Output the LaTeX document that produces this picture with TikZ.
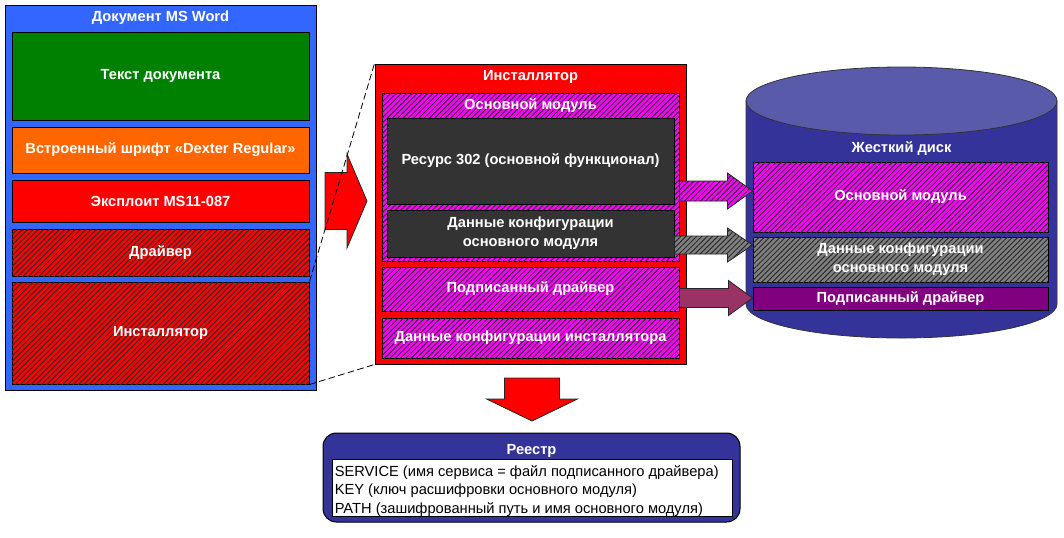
\documentclass[tikz,border=0pt]{standalone}
\usepackage{fontspec}
\setmainfont{Liberation Sans}
\usepackage{tikz}
\usetikzlibrary{calc}
\usetikzlibrary{positioning,patterns.meta}
\definecolor{wordblue}{RGB}{51,102,255}
\definecolor{docgreen}{RGB}{0,128,0}
\definecolor{fontorange}{RGB}{255,102,0}
\definecolor{hddblue}{RGB}{51,51,153}
\definecolor{hddtop}{RGB}{90,90,170}
\definecolor{darkcell}{RGB}{51,51,51}
\definecolor{plum}{RGB}{153,51,102}
\definecolor{drvpurple}{RGB}{128,0,128}
\definecolor{modmagenta}{RGB}{255,0,255}
\definecolor{hatchline}{RGB}{45,45,45}
\definecolor{hatchgray}{RGB}{128,128,128}
\newcommand{\lblfont}{\fontsize{11}{14}\selectfont\bfseries}
\newcommand{\cellnode}[7]{\node[cell, #1, minimum width={(#5-#3)*0.75pt}, minimum height={(#6-#4)*0.75pt}] (#2) at ({(#3+#5)/2},{(#4+#6)/2}) {#7};}
\newcommand{\blockarrow}[6]{\draw[#1] ($(#2)+(0,-#4)$) -- ($(#3)+(-#6,-#4)$) -- ($(#3)+(-#6,-#5)$) -- (#3) -- ($(#3)+(-#6,#5)$) -- ($(#3)+(-#6,#4)$) -- ($(#2)+(0,#4)$) -- cycle;}
\tikzset{
    cell/.style={draw=black, line width=0.75pt, inner sep=0pt, text=white, font=\lblfont, align=center},
    hatched/.style={postaction={pattern={Lines[angle=45,distance=2.8pt,line width=0.75pt]}, pattern color=hatchline}},
    ttl/.style={text=white, font=\lblfont, inner sep=0pt},
    barrow/.style={draw=black!85, line width=0.6pt}
}

\begin{document}
\begin{tikzpicture}[x=0.75pt, y=-0.75pt]
        \useasboundingbox (0,0) rectangle (1064,537);
        % MS Word document
        \cellnode{fill=wordblue}{word}{5}{5}{316}{390}{}
        \node[ttl] (wordttl) at (word.north |- 0,18) {Документ MS Word};
        \cellnode{fill=docgreen}{doctext}{12}{32}{309}{120}{Текст документа}
        \cellnode{fill=fontorange}{font}{12}{127}{309}{173}{Встроенный шрифт «Dexter Regular»}
        \cellnode{fill=red}{exploit}{12}{180}{309}{222}{Эксплоит MS11-087}
        \cellnode{fill=red, hatched}{drv}{12}{229}{309}{276}{Драйвер}
        \cellnode{fill=red, hatched}{inst}{12}{282}{309}{384}{Инсталлятор}
        % installer
        \cellnode{fill=red}{instpanel}{375}{64}{686}{364}{}
        \node[ttl] (instttl) at (instpanel.north |- 0,77) {Инсталлятор};
        \cellnode{fill=modmagenta, hatched}{mainmod}{382}{93}{679}{261}{}
        \node[ttl] (mainttl) at (mainmod.north |- 0,106) {Основной модуль};
        \cellnode{fill=darkcell}{res}{387}{118}{674}{204}{Ресурс 302 (основной функционал)}
        \cellnode{fill=darkcell}{cfg}{387}{210}{674}{257}{Данные конфигурации\\основного модуля}
        \cellnode{fill=modmagenta, hatched}{sdrv}{382}{267}{679}{311}{Подписанный драйвер}
        \cellnode{fill=modmagenta, hatched}{icfg}{382}{318}{679}{358}{Данные конфигурации инсталлятора}
        % hard disk
        \filldraw[fill=hddblue, draw=black!80, line width=0.6pt] (746,101) -- (746,304)
            arc[start angle=180, end angle=0, x radius=155.5, y radius=34] -- (1057,101) -- cycle;
        \filldraw[fill=hddtop, draw=black!80, line width=0.6pt] (901.5,101) ellipse[x radius=155.5, y radius=34];
        \node[ttl] (hddttl) at (901.5,148) {Жесткий диск};
        \cellnode{fill=modmagenta, hatched}{dmain}{753}{162}{1048}{232}{Основной модуль}
        \cellnode{fill=hatchgray, hatched}{dcfg}{753}{237}{1048}{282}{Данные конфигурации\\основного модуля}
        \cellnode{fill=drvpurple}{ddrv}{753}{287}{1048}{310}{Подписанный драйвер}
        % registry
        \cellnode{fill=hddblue, rounded corners=10pt}{reg}{323}{433}{740}{522}{}
        \node[ttl] (regttl) at (reg.north |- 0,451) {Реестр};
        \cellnode{fill=white}{regkeys}{332}{459}{732}{516}{}
        \node[anchor=west, align=left, inner sep=0pt, font=\fontsize{11}{13.9}\selectfont] (regtxt) at ($(regkeys.west)+(3,3.5)$) {SERVICE (имя сервиса = файл подписанного драйвера)\\KEY (ключ расшифровки основного модуля)\\PATH (зашифрованный путь и имя основного модуля)};
        % arrows
        \coordinate (rtail) at (325,201);
        \coordinate (rtip) at (367,201);
        \blockarrow{barrow, fill=red}{rtail}{rtip}{28.5}{47}{20}
        \coordinate (a1) at (mainmod.east |- 0,191);
        \coordinate (b1) at (dmain.west |- 0,191);
        \blockarrow{barrow, fill=modmagenta, hatched}{a1}{b1}{10}{18}{25}
        \coordinate (a2) at (cfg.east |- 0,245);
        \coordinate (b2) at (dcfg.west |- 0,245);
        \blockarrow{barrow, fill=hatchgray, hatched}{a2}{b2}{9}{17}{25}
        \coordinate (a3) at (sdrv.east |- 0,298);
        \coordinate (b3) at (ddrv.west |- 0,298);
        \blockarrow{barrow, fill=plum}{a3}{b3}{9.5}{17.5}{24}
        \coordinate (dtip) at (532,421);
        \draw[barrow, fill=red] (dtip) -- ++(-45.5,-22) -- ++(18,0) -- ++(0,-21) -- ++(55,0) -- ++(0,21) -- ++(18,0) -- cycle;
        % zoom lines
        \draw[dash pattern=on 5pt off 2.5pt, line width=0.6pt] (inst.north east) -- (instpanel.north west);
        \draw[dash pattern=on 5pt off 2.5pt, line width=0.6pt] (inst.south east) -- (instpanel.south west);
    \end{tikzpicture}
\end{document}
